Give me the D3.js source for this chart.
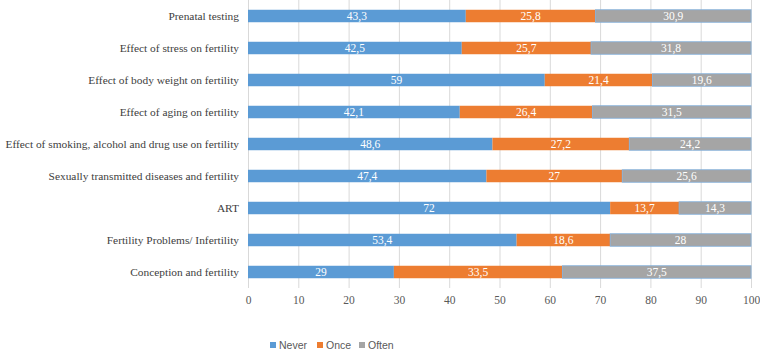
<!DOCTYPE html>
<html>
<head>
<meta charset="utf-8">
<script src="https://cdn.jsdelivr.net/npm/d3@7"></script>
<style>
  body { margin: 0; background: #fff; }
  svg { display: block; }
</style>
</head>
<body>
<div id="container"></div>
<script>
// Chart data
const categories = [
  'Prenatal testing',
  'Effect of stress on fertility',
  'Effect of body weight on fertility',
  'Effect of aging on fertility',
  'Effect of smoking, alcohol and drug use on fertility',
  'Sexually transmitted diseases and fertility',
  'ART',
  'Fertility Problems/ Infertility',
  'Conception and fertility'
];
const seriesNames = ['Never', 'Once', 'Often'];
const never = [43.3, 42.5, 59, 42.1, 48.6, 47.4, 72, 53.4, 29];
const once = [25.8, 25.7, 21.4, 26.4, 27.2, 27, 13.7, 18.6, 33.5];
const often = [30.9, 31.8, 19.6, 31.5, 24.2, 25.6, 14.3, 28, 37.5];
const xTicks = [0, 10, 20, 30, 40, 50, 60, 70, 80, 90, 100];

const colors = ['#5B9BD5', '#ED7D31', '#A5A5A5'];
const serif = '"Liberation Serif", "Times New Roman", "DejaVu Serif", serif';

const width = 760;
const height = 352;
const padding = { top: 0, right: 9, bottom: 64, left: 248 };
const chartArea = {
  width: width - padding.left - padding.right,
  height: height - padding.top - padding.bottom
};

const svg = d3.select('#container').append('svg')
  .attr('width', width)
  .attr('height', height);

const g = svg.append('g')
  .attr('transform', 'translate(' + padding.left + ',' + padding.top + ')');

// scales
const xScale = d3.scaleLinear().domain([0, 100]).range([0, chartArea.width]);
const yScale = d3.scaleBand().domain(categories).range([0, chartArea.height]).paddingInner(0.61).paddingOuter(0.305);

// gridlines
g.selectAll('.grid')
  .data(xTicks)
  .enter()
  .append('line')
  .attr('x1', d => xScale(d) + 0.5)
  .attr('x2', d => xScale(d) + 0.5)
  .attr('y1', 0)
  .attr('y2', chartArea.height)
  .attr('stroke', '#D9D9D9')
  .attr('stroke-width', 1);

// stack
const rows = categories.map((c, i) => ({ cat: c, Never: never[i], Once: once[i], Often: often[i] }));
const stacked = d3.stack().keys(seriesNames)(rows);

const layers = g.selectAll('.layer')
  .data(stacked)
  .enter()
  .append('g')
  .attr('fill', (d, i) => colors[i]);

layers.selectAll('rect')
  .data(d => d)
  .enter()
  .append('rect')
  .attr('x', d => xScale(d[0]))
  .attr('y', d => yScale(d.data.cat))
  .attr('width', d => xScale(d[1]) - xScale(d[0]))
  .attr('height', yScale.bandwidth());

// thin outline on the grey segments
layers.filter((d, i) => i === 2).selectAll('rect')
  .attr('stroke', '#7FAEDC')
  .attr('stroke-width', 0.8);

// data labels
layers.selectAll('text')
  .data(d => d.map(p => ({ p, key: d.key })))
  .enter()
  .append('text')
  .attr('x', d => xScale((d.p[0] + d.p[1]) / 2))
  .attr('y', d => yScale(d.p.data.cat) + yScale.bandwidth() / 2)
  .attr('dy', '0.36em')
  .attr('text-anchor', 'middle')
  .attr('fill', '#fff')
  .style('font-family', serif)
  .style('font-size', '11.5px')
  .text(d => String(d.p.data[d.key]).replace('.', ','));

// category labels
const yAxis = g.append('g')
  .call(d3.axisLeft(yScale).tickSize(0).tickPadding(9));
yAxis.select('.domain').remove();
yAxis.selectAll('text')
  .attr('fill', '#404040')
  .style('font-family', serif)
  .style('font-size', '11.4px');

// x axis
const xAxis = g.append('g')
  .attr('transform', 'translate(0,' + chartArea.height + ')')
  .call(d3.axisBottom(xScale).tickValues(xTicks).tickSize(0).tickPadding(8));
xAxis.select('.domain').remove();
xAxis.selectAll('text')
  .attr('fill', '#595959')
  .style('font-family', serif)
  .style('font-size', '11.5px');

// legend
const legendX = [270, 317, 359];
const legend = svg.append('g')
  .selectAll('g')
  .data(seriesNames)
  .enter()
  .append('g')
  .attr('transform', (d, i) => 'translate(' + legendX[i] + ',' + 342 + ')');

legend.append('rect')
  .attr('width', 6)
  .attr('height', 6)
  .attr('fill', (d, i) => colors[i]);

legend.append('text')
  .attr('x', 9)
  .attr('y', 3)
  .attr('dy', '0.35em')
  .attr('fill', '#595959')
  .style('font-family', '"Liberation Sans", Arial, sans-serif')
  .style('font-size', '10.5px')
  .text(d => d);
</script>
</body>
</html>
